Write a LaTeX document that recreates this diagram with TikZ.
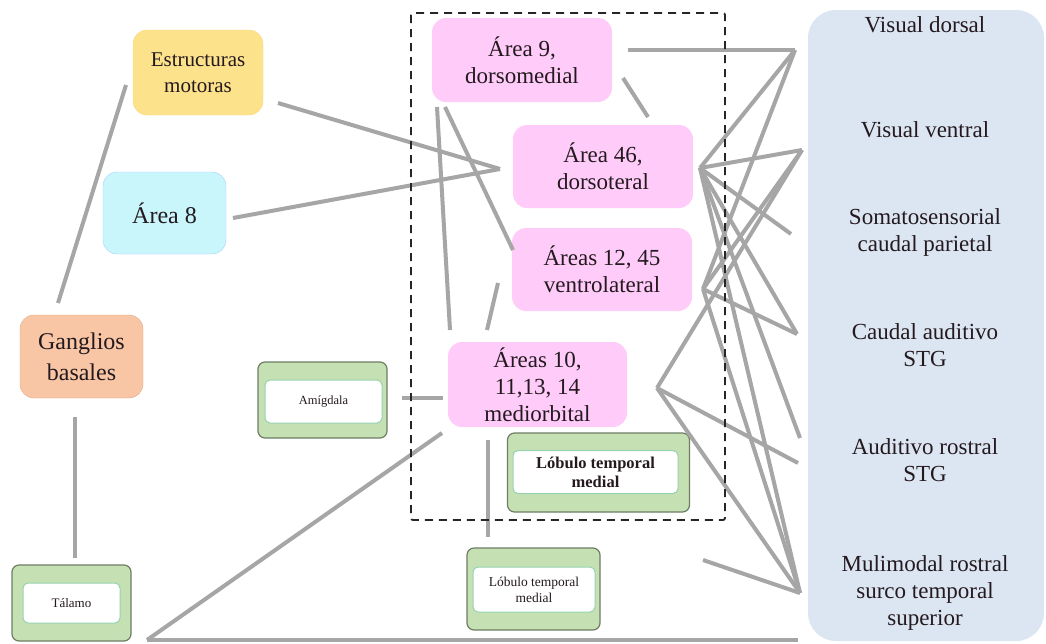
\documentclass[tikz,border=0pt]{standalone}
\usepackage{fontspec}
\setmainfont{Liberation Serif}
\definecolor{linegray}{RGB}{166,166,166}
\definecolor{pinkfill}{RGB}{255,204,250}
\definecolor{yellowfill}{RGB}{253,226,140}
\definecolor{cyanfill}{RGB}{200,246,251}
\definecolor{orangefill}{RGB}{248,198,164}
\definecolor{orangeedge}{RGB}{228,170,135}
\definecolor{greenfill}{RGB}{197,224,179}
\definecolor{greenedge}{RGB}{110,125,100}
\definecolor{inneredge}{RGB}{150,210,175}
\definecolor{bluefill}{RGB}{220,230,242}
\definecolor{textdark}{RGB}{35,25,30}
\begin{document}
\begin{tikzpicture}[x=1pt,y=-1pt,
  conn/.style={draw=linegray, line width=4pt},
  box/.style={rounded corners=14pt, align=center, inner sep=0pt, text=textdark,
    font=\fontsize{23}{27}\selectfont},
  pinkbox/.style={box, fill=pinkfill, minimum width=180pt, minimum height=84pt},
  outerg/.style={draw=greenedge, line width=1.2pt, fill=greenfill, rounded corners=7pt, inner sep=0pt},
  innerg/.style={draw=inneredge, line width=1pt, fill=white, rounded corners=5pt, inner sep=0pt,
    align=center, text=textdark},
  rtext/.style={align=center, text=textdark, font=\fontsize{23}{27}\selectfont}
]
\useasboundingbox (0,0) rectangle (1046,643);
\fill[white] (0,0) rectangle (1046,643);

% right panel
\begin{scope}
\clip (0,0) rectangle (1046,643);
\fill[bluefill, rounded corners=28pt] (808,10) rectangle (1044,641);
\end{scope}
\node[rtext] (vd) at (925,25) {Visual dorsal};
\node[rtext] (vv) at (925,130) {Visual ventral};
\node[rtext] (som) at (925,232) {Somatosensorial\\caudal parietal};
\node[rtext] (cau) at (925,345) {Caudal auditivo\\STG};
\node[rtext] (aur) at (925,460) {Auditivo rostral\\STG};
\node[rtext] (mul) at (925,593) {Mulimodal rostral\\surco temporal\\superior};

% hub coordinates
\coordinate (R1) at (795,50);
\coordinate (R2) at (802,150);
\coordinate (R3) at (791,234);
\coordinate (R4) at (797,334);
\coordinate (R5a) at (800,438);
\coordinate (R5b) at (798,463);
\coordinate (R6) at (800,593);
\coordinate (L46) at (700,168);
\coordinate (L12) at (703,289);
\coordinate (L10) at (657,388);
\coordinate (ltmfree) at (703,560);
\coordinate (botend) at (798,640);

% boxes
\node[box, fill=yellowfill, draw=yellowfill!90!orange, minimum width=130pt, minimum height=85pt,
  font=\fontsize{21}{26}\selectfont] (est) at (198,72.5) {Estructuras\\motoras};
\node[box, fill=cyanfill, draw=cyanfill!85!blue, minimum width=123pt, minimum height=82pt,
  font=\fontsize{24}{28}\selectfont] (a8) at (164.5,213) {Área 8};
\node[box, fill=orangefill, draw=orangeedge, minimum width=123pt, minimum height=83pt,
  font=\fontsize{24}{31}\selectfont] (gb) at (81.5,356.5) {Ganglios\\basales};
\node[pinkbox] (a9) at (522,60) {Área 9,\\dorsomedial};
\node[pinkbox, minimum height=83pt] (a46) at (603,166.5) {Área 46,\\dorsoteral};
\node[pinkbox, minimum height=83pt] (a12) at (602,269.5) {Áreas 12, 45\\ventrolateral};
\node[pinkbox, minimum width=179pt, minimum height=85pt] (a10) at (537.5,384.5) {Áreas 10,\\11,13, 14\\mediorbital};

% green boxes
\node[outerg, minimum width=119pt, minimum height=76pt] (talo) at (71.5,603) {};
\node[innerg, minimum width=97pt, minimum height=40pt, font=\fontsize{13}{15}\selectfont] (tal) at (71.5,603) {Tálamo};
\node[outerg, minimum width=129pt, minimum height=76pt] (amyo) at (322.5,400) {};
\node[innerg, minimum width=117pt, minimum height=43pt, font=\fontsize{12.5}{15}\selectfont] (amy) at (323.5,401.5) {Amígdala};
\node[outerg, minimum width=182pt, minimum height=79pt] (ltmao) at (598.5,472.5) {};
\node[innerg, minimum width=165pt, minimum height=43pt, font=\bfseries\fontsize{16.5}{19}\selectfont] (ltma) at (595.5,472) {Lóbulo temporal\\medial};
\node[outerg, minimum width=133pt, minimum height=82pt] (ltmbo) at (533.5,589) {};
\node[innerg, minimum width=122pt, minimum height=45pt, font=\fontsize{13.5}{16}\selectfont] (ltmb) at (534,589.5) {Lóbulo temporal\\medial};

% connectors (left part)
\coordinate (gbT) at (58,303);
\coordinate (estL) at (126,85);
\coordinate (gbB) at (75,417);
\coordinate (talT) at (75,558);
\coordinate (estR) at (278,103);
\coordinate (a46L) at (500,169);
\coordinate (a8R) at (233,218);
\coordinate (a9R) at (628,50);
\coordinate (a9BR) at (623,78);
\coordinate (a46T) at (648,117);
\coordinate (a9B1) at (437,107);
\coordinate (a10T1) at (450,330);
\coordinate (a9B2) at (445,107);
\coordinate (a12L) at (513,250);
\coordinate (a12B) at (498,283);
\coordinate (a10T2) at (487,330);
\coordinate (amyR) at (402,398);
\coordinate (a10L) at (443,398);
\coordinate (talR) at (147,640);
\coordinate (a10BL) at (442,433);
\coordinate (a10B) at (488,440);
\coordinate (ltmbT) at (488,537);

\draw[conn] (gbT) -- (estL);
\draw[conn] (gbB) -- (talT);
\draw[conn] (estR) -- (a46L);
\draw[conn] (a8R) -- (a46L);
\draw[conn] (a9R) -- (R1);
\draw[conn] (a9BR) -- (a46T);
\draw[conn] (a9B1) -- (a10T1);
\draw[conn] (a9B2) -- (a12L);
\draw[conn] (a12B) -- (a10T2);
\draw[conn] (amyR) -- (a10L);
\draw[conn] (talR) -- (a10BL);
\draw[conn] (talR) -- (botend);
\draw[conn] (a10B) -- (ltmbT);
\draw[conn] (ltmfree) -- (R6);

% connectors (right fan)
\draw[conn] (R1) -- (L46);
\draw[conn] (R1) -- (L12);
\draw[conn] (R2) -- (L46);
\draw[conn] (R2) -- (L12);
\draw[conn] (R2) -- (L10);
\draw[conn] (L46) -- (R3);
\draw[conn] (L46) -- (R4);
\draw[conn] (L46) -- (R5a);
\draw[conn] (L46) -- (R6);
\draw[conn] (L12) -- (R4);
\draw[conn] (L12) -- (R6);
\draw[conn] (L10) -- (R5b);
\draw[conn] (L10) -- (R6);

% dashed frame
\draw[black!85, line width=1.8pt, dash pattern=on 8pt off 6pt, rounded corners=2pt]
  (411,13) rectangle (725,520);
\end{tikzpicture}
\end{document}
